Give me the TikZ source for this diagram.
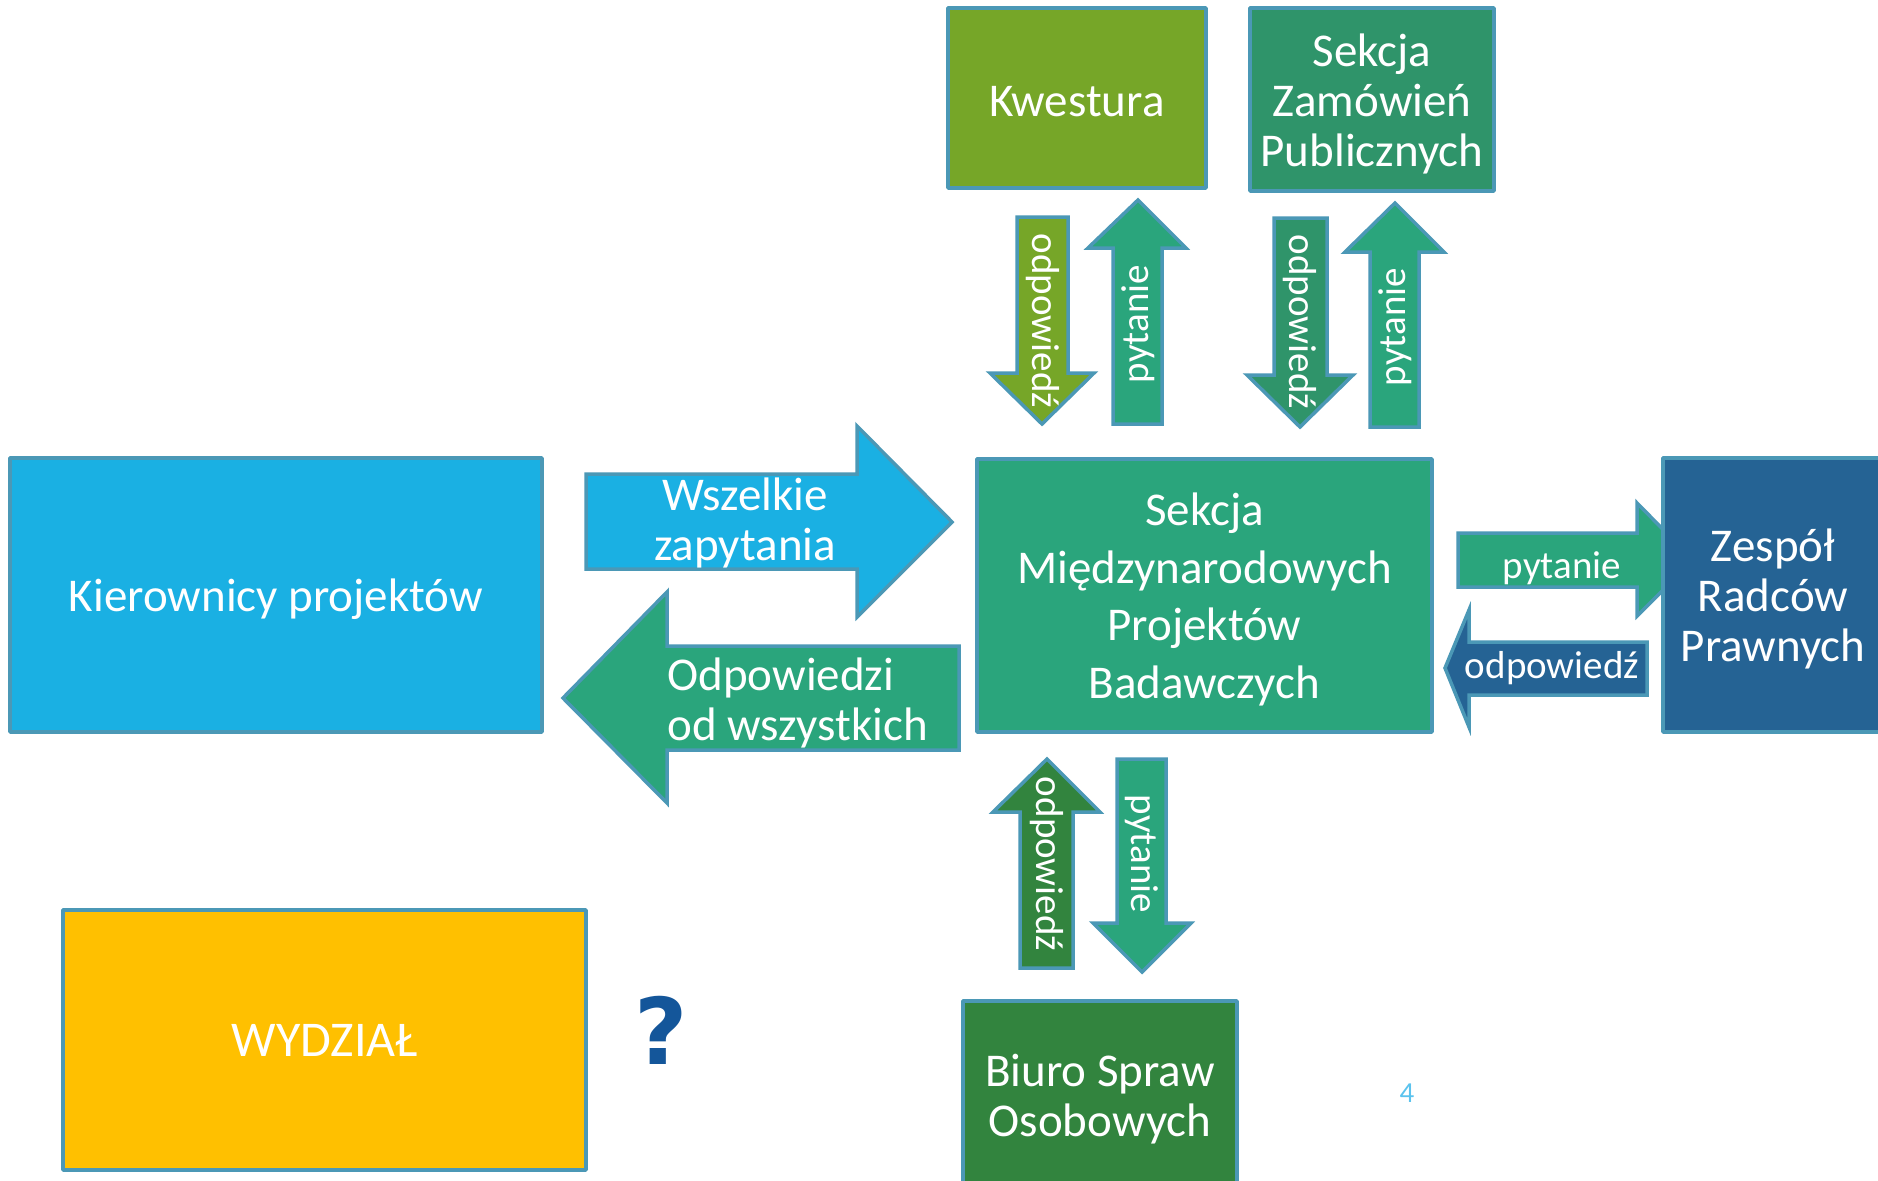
\documentclass[tikz,border=0pt]{standalone}
\usepackage{fontspec}
\setmainfont{Carlito}
\newfontfamily\qfont{DejaVu Sans}
\definecolor{edge}{HTML}{4B98B6}
\definecolor{skyfill}{HTML}{1AB0E3}
\definecolor{mintfill}{HTML}{2AA57C}
\definecolor{limefill}{HTML}{76A628}
\definecolor{pinefill}{HTML}{2F946A}
\definecolor{navyfill}{HTML}{256394}
\definecolor{forestfill}{HTML}{32843E}
\definecolor{goldfill}{HTML}{FFC000}
\definecolor{qblue}{HTML}{14569A}
\definecolor{pagenum}{HTML}{5BC3EE}
\tikzset{
  unitbox/.style={draw=edge, line width=1.75pt, line join=round, inner sep=0pt,
    text=white, align=center},
  blockarrow/.style={draw=edge, line width=1.75pt, line join=miter},
  bigtext/.style={font=\fontsize{23.5}{25}\selectfont},
  centertext/.style={font=\fontsize{23.5}{28.8}\selectfont},
  arrowtext/.style={text=white, inner sep=0pt, font=\fontsize{19.5}{22}\selectfont},
  lower/.style={yshift=-2pt},
}
\begin{document}
\begin{tikzpicture}[x=0.5pt, y=-0.5pt]
\useasboundingbox (0,0) rectangle (1878,1180);
\clip (0,0) rectangle (1878,1180);
\fill[white] (0,0) rectangle (1878,1180);

% block arrows (drawn first so boxes sit on top)
% Kierownicy -> Sekcja
\draw[blockarrow, fill=skyfill] (586,474) -- (857,474) -- (857,426) -- (952,522)
  -- (857,617) -- (857,569) -- (586,569) -- cycle;
% Sekcja -> Kierownicy
\draw[blockarrow, fill=mintfill] (959,646) -- (667,646) -- (667,592) -- (563,698)
  -- (667,803) -- (667,750) -- (959,750) -- cycle;
% Kwestura pair
\draw[blockarrow, fill=limefill] (1017,217) -- (1068,217) -- (1068,373) -- (1094,373)
  -- (1042,424) -- (990,373) -- (1017,373) -- cycle;
\draw[blockarrow, fill=mintfill] (1113,424) -- (1113,248) -- (1088,248) -- (1138,200)
  -- (1186,248) -- (1162,248) -- (1162,424) -- cycle;
% Sekcja Zamowien pair
\draw[blockarrow, fill=pinefill] (1274,218) -- (1327,218) -- (1327,375) -- (1353,375)
  -- (1300,427) -- (1247,375) -- (1274,375) -- cycle;
\draw[blockarrow, fill=mintfill] (1370,427) -- (1370,252) -- (1345,252) -- (1395,203)
  -- (1444,252) -- (1419,252) -- (1419,427) -- cycle;
% Zespol pair
\draw[blockarrow, fill=mintfill] (1458,533) -- (1637,533) -- (1637,503) -- (1693,560)
  -- (1637,616) -- (1637,587) -- (1458,587) -- cycle;
\draw[blockarrow, fill=navyfill] (1647,642) -- (1469,642) -- (1469,610) -- (1445,668)
  -- (1469,727) -- (1469,695) -- (1647,695) -- cycle;
% Biuro pair
\draw[blockarrow, fill=forestfill] (1020,968) -- (1020,812) -- (993,812) -- (1047,759)
  -- (1100,812) -- (1073,812) -- (1073,968) -- cycle;
\draw[blockarrow, fill=mintfill] (1117,759) -- (1166,759) -- (1166,923) -- (1191,923)
  -- (1142,972) -- (1093,923) -- (1117,923) -- cycle;

% units
\node[unitbox, fill=skyfill, minimum width=266pt, minimum height=137pt]
  (kier) at (276,595) {};
\node[unitbox, fill=mintfill, minimum width=227.5pt, minimum height=136.5pt]
  (smpb) at (1204.5,595.5) {};
\node[unitbox, fill=limefill, minimum width=129pt, minimum height=90pt]
  (kwes) at (1077,98) {};
\node[unitbox, fill=pinefill, minimum width=122pt, minimum height=91.5pt]
  (szp) at (1372,99.5) {};
\node[unitbox, fill=navyfill, minimum width=110pt, minimum height=137pt]
  (zrp) at (1773,595) {};
\node[unitbox, fill=forestfill, minimum width=137pt, minimum height=94pt]
  (bso) at (1100,1095) {};
\node[unitbox, fill=goldfill, minimum width=261.5pt, minimum height=130pt]
  (wydz) at (324.5,1040) {};

% unit names
\node[arrowtext, bigtext, lower] (kierT) at (kier) {Kierownicy projektów};
\node[arrowtext, centertext, align=center, lower] (smpbT) at (smpb) {Sekcja\\Międzynarodowych\\Projektów\\Badawczych};
\node[arrowtext, bigtext, lower] (kwesT) at (kwes) {Kwestura};
\node[arrowtext, bigtext, align=center, lower] (szpT) at (szp) {Sekcja\\Zamówień\\Publicznych};
\node[arrowtext, bigtext, align=center, lower] (zrpT) at (zrp) {Zespół\\Radców\\Prawnych};
\node[arrowtext, bigtext, align=center, lower] (bsoT) at (bso) {Biuro Spraw\\Osobowych};
\node[arrowtext, font=\fontsize{25}{27}\selectfont] (wydzT) at (wydz) {WYDZIAŁ};

% arrow labels
\node[arrowtext, bigtext, align=center] (wsz) at (745,523) {Wszelkie\\zapytania};
\node[arrowtext, bigtext, align=left, anchor=west, lower] (odpall) at (667,699) {Odpowiedzi\\od wszystkich};
\node[arrowtext, rotate=-90] (odpK) at (1043,321) {odpowiedź};
\node[arrowtext, rotate=90] (pytK) at (1138,324) {pytanie};
\node[arrowtext, rotate=-90] (odpZ) at (1300,322) {odpowiedź};
\node[arrowtext, rotate=90] (pytZ) at (1395,327) {pytanie};
\node[arrowtext, lower] (pytR) at (1562,564) {pytanie};
\node[arrowtext, lower] (odpR) at (1552,664) {odpowiedź};
\node[arrowtext, rotate=-90] (odpB) at (1047,864) {odpowiedź};
\node[arrowtext, rotate=-90] (pytB) at (1142,854) {pytanie};

% question mark and page number
\node[text=qblue, inner sep=0pt, font=\qfont\bfseries\fontsize{46}{50}\selectfont] (qmark) at (661,1030) {?};
\node[text=pagenum, inner sep=0pt, font=\fontsize{14.5}{16}\selectfont] (pnum) at (1407,1093) {4};
\end{tikzpicture}
\end{document}
